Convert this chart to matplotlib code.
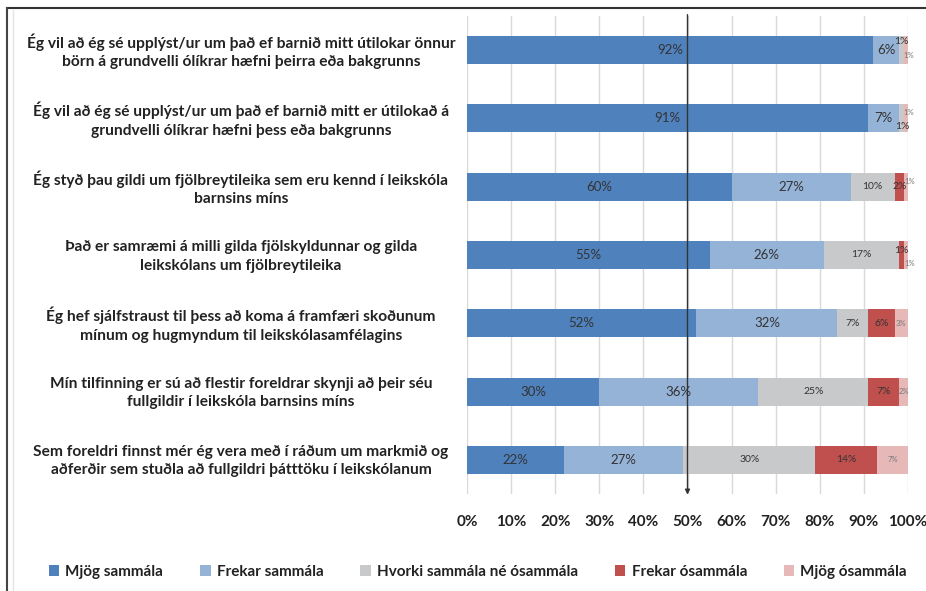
import matplotlib.pyplot as plt
import matplotlib.transforms as mtransforms
from matplotlib.lines import Line2D
from matplotlib.patches import Patch

plt.rcParams['font.family'] = ['Lato', 'DejaVu Sans']

# Gögn
questions = [
    'Ég vil að ég sé upplýst/ur um það ef barnið mitt útilokar önnur\nbörn á grundvelli ólíkrar hæfni þeirra eða bakgrunns',
    'Ég vil að ég sé upplýst/ur um það ef barnið mitt er útilokað á\ngrundvelli ólíkrar hæfni þess eða bakgrunns',
    'Ég styð þau gildi um fjölbreytileika sem eru kennd í leikskóla\nbarnsins míns',
    'Það er samræmi á milli gilda fjölskyldunnar og gilda\nleikskólans um fjölbreytileika',
    'Ég hef sjálfstraust til þess að koma á framfæri skoðunum\nmínum og hugmyndum til leikskólasamfélagins',
    'Mín tilfinning er sú að flestir foreldrar skynji að þeir séu\nfullgildir í leikskóla barnsins míns',
    'Sem foreldri finnst mér ég vera með í ráðum um markmið og\naðferðir sem stuðla að fullgildri þátttöku í leikskólanum',
]
categories = ['Mjög sammála', 'Frekar sammála', 'Hvorki sammála né ósammála',
              'Frekar ósammála', 'Mjög ósammála']
mjog_sammala = [92, 91, 60, 55, 52, 30, 22]
frekar_sammala = [6, 7, 27, 26, 32, 36, 27]
hvorki = [1, 1, 10, 17, 7, 25, 30]
frekar_osammala = [0, 0, 2, 1, 6, 7, 14]
mjog_osammala = [1, 1, 1, 1, 3, 2, 7]
xticks = [0, 10, 20, 30, 40, 50, 60, 70, 80, 90, 100]

series = [mjog_sammala, frekar_sammala, hvorki, frekar_osammala, mjog_osammala]
colors = ['#4F81BD', '#95B3D7', '#C8C9CB', '#C0504D', '#E6B9B8']
lab_size = [9.5, 9.5, 7.5, 7.5, 5.5]
lab_color = ['#333333', '#333333', '#333333', '#333333', '#777777']
# litlar tilfærslur fyrir merki á mjóum bútum (rað, röð) -> (dx, dy)
nudge = {(0, 2): (0, -0.12), (0, 4): (0.6, 0.08),
         (1, 2): (0.3, 0.12), (1, 4): (0.6, -0.08),
         (2, 4): (0.8, -0.08),
         (3, 3): (0, -0.07), (3, 4): (0.8, 0.13)}

fig = plt.figure(figsize=(9.26, 5.91), dpi=100)
ax = fig.add_axes([467 / 926, 1 - 494 / 591, 441 / 926, 478 / 591])

y = list(range(len(questions)))
left = [0] * len(questions)
for j, (vals, c) in enumerate(zip(series, colors)):
    ax.barh(y, vals, left=left, height=0.41, color=c, zorder=2)
    for i, v in enumerate(vals):
        if v > 0:
            dx, dy = nudge.get((i, j), (0, 0))
            ax.text(left[i] + v / 2 + dx, y[i] + dy, f'{v}%', ha='center', va='center',
                    fontsize=lab_size[j], color=lab_color[j], zorder=3)
    left = [l + v for l, v in zip(left, vals)]

ax.set_xlim(0, 100)
ax.set_ylim(len(questions) - 0.5, -0.5)
ax.set_xticks(xticks)
ax.set_xticklabels([f'{t}%' for t in xticks], fontsize=11, fontweight='bold', color='#222222')
ax.set_yticks([])
ax.tick_params(axis='x', length=0, pad=15)
for s in ax.spines.values():
    s.set_visible(False)
ax.grid(axis='x', color='#D9D9D9', lw=1, zorder=0)

# 50% lína með ör
ax.annotate('', xy=(50, len(questions) - 0.45), xytext=(50, -0.56),
            arrowprops=dict(arrowstyle='-|>', color='#333333', lw=1, mutation_scale=7),
            annotation_clip=False, zorder=4)

# spurningar
trans = mtransforms.blended_transform_factory(fig.transFigure, ax.transData)
for i, q in enumerate(questions):
    fig.text(241 / 926, y[i] + 0.02, q, transform=trans, ha='center', va='center',
             fontsize=11.2, fontweight='bold', color='#222222', linespacing=1.4)

# skýringar
handles = [Patch(facecolor=c, edgecolor='none') for c in colors]
fig.legend(handles, categories, loc='center', bbox_to_anchor=(0.516, 1 - 572 / 591), ncol=5,
           frameon=False, prop={'size': 11, 'weight': 'bold'}, handlelength=0.7,
           handleheight=0.7, handletextpad=0.4, columnspacing=2.4, labelcolor='#222222')

# rammi
fig.add_artist(Line2D([7 / 926, 1], [1 - 8 / 591] * 2, color='#333333', lw=1.5))
fig.add_artist(Line2D([7 / 926] * 2, [0, 1 - 8 / 591], color='#444444', lw=1.5))
fig.add_artist(Line2D([13 / 926] * 2, [0, 1 - 10 / 591], color='#E5E5E5', lw=1))

fig.savefig('out.png', dpi=100)
